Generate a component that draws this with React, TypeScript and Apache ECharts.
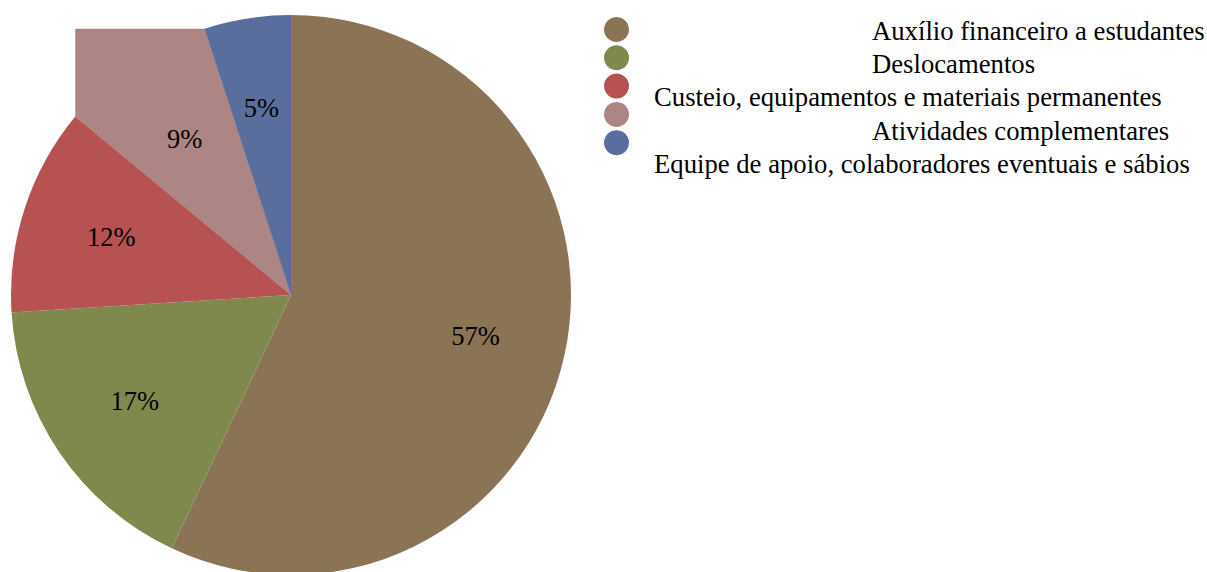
import React, { useEffect, useRef } from "react";
import * as echarts from "echarts";

const categories = [
  "Auxílio financeiro a estudantes",
  "Deslocamentos",
  "Custeio, equipamentos e materiais permanentes",
  "Atividades complementares",
  "Equipe de apoio, colaboradores eventuais e sábios",
];
const values = [57, 17, 12, 9, 5];
const colors = ["#8b7355", "#7f894d", "#b65252", "#ad8584", "#5a6e9e"];
const shortLabels = ["Auxílio financeiro a estudantes", "Deslocamentos", "Atividades complementares"];

const FONT = "Liberation Serif, Times New Roman, DejaVu Serif, serif";

export default function App() {
  const ref = useRef<HTMLDivElement>(null);
  useEffect(() => {
    if (!ref.current) return;
    const chart = echarts.init(ref.current, null, { renderer: "svg" });
    const cx = 291;
    const cy = 295;
    const R = 280;
    const total = values.reduce((a, b) => a + b, 0);
    const before = values.slice(0, 3).reduce((a, b) => a + b, 0);
    const a1 = (before / total) * Math.PI * 2;
    const a2 = ((before + values[3]) / total) * Math.PI * 2;
    const p1 = [cx + R * Math.sin(a1), cy - R * Math.cos(a1)];
    const p2 = [cx + R * Math.sin(a2), cy - R * Math.cos(a2)];
    const corner = [p1[0], p2[1]];

    const data = categories.map((name, i) => ({
      name,
      value: values[i],
      itemStyle: { color: colors[i] },
    }));

    chart.setOption({
      animation: false,
      color: colors,
      textStyle: { fontFamily: FONT },
      graphic: [
        {
          type: "polygon",
          z: 0,
          silent: true,
          shape: { points: [[cx, cy], p1, corner, p2] },
          style: { fill: colors[3] },
        },
      ],
      legend: [
        {
          orient: "vertical",
          left: 604,
          top: 17,
          padding: 0,
          itemWidth: 25,
          itemHeight: 25,
          itemGap: 3.3,
          icon: "circle",
          selectedMode: false,
          formatter: () => "",
          textStyle: { fontSize: 1, lineHeight: 1 },
          data: categories,
        },
        {
          orient: "vertical",
          left: 649,
          top: 14,
          padding: 0,
          itemWidth: 0,
          itemHeight: 0,
          itemGap: 0,
          icon: "circle",
          itemStyle: { opacity: 0 },
          selectedMode: false,
          formatter: (name: string) =>
            shortLabels.includes(name) ? `{s|${name}}` : `{l|${name}}`,
          textStyle: {
            fontFamily: FONT,
            fontSize: 26.7,
            color: "#000",
            lineHeight: 33.3,
            rich: {
              s: { fontFamily: FONT, fontSize: 26.7, color: "#000", lineHeight: 33.3, padding: [0, 0, 0, 218] },
              l: { fontFamily: FONT, fontSize: 26.7, color: "#000", lineHeight: 33.3 },
            },
          },
          data: categories,
        },
      ],
      series: [
        {
          type: "pie",
          center: [cx, cy],
          radius: [0, R],
          startAngle: 90,
          clockwise: true,
          silent: true,
          z: 2,
          label: { show: false },
          labelLine: { show: false },
          itemStyle: { borderWidth: 0 },
          emphasis: { disabled: true },
          data,
        },
        {
          type: "pie",
          center: [cx, cy],
          radius: [92, R],
          startAngle: 90,
          clockwise: true,
          silent: true,
          z: 3,
          itemStyle: { color: "rgba(0,0,0,0)", borderWidth: 0 },
          emphasis: { disabled: true },
          labelLine: { show: false },
          label: {
            show: true,
            position: "inside",
            formatter: (p: any) => `${p.value}%`,
            fontFamily: FONT,
            fontSize: 26.5,
            color: "#000",
          },
          legendHoverLink: false,
          data: categories.map((name, i) => ({ name: name + " ", value: values[i] })),
        },
      ],
    });
    return () => chart.dispose();
  }, []);
  return (
    <div
      ref={ref}
      style={{ position: "absolute", left: 0, top: 0, width: 1207, height: 572 }}
    />
  );
}
